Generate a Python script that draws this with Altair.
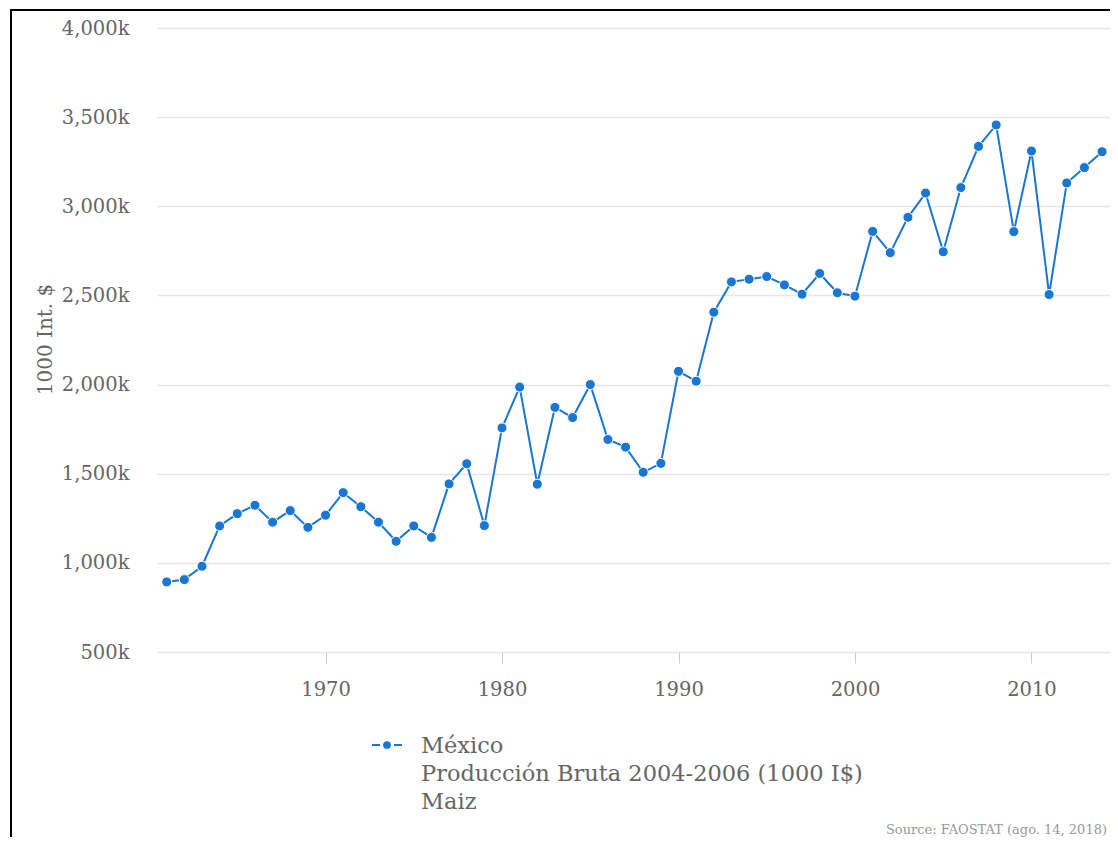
import altair as alt
import pandas as pd

years = list(range(1961, 2015))
values_k = [893, 906, 981, 1207, 1276, 1323, 1228, 1293, 1199, 1267,
            1394, 1315, 1228, 1121, 1207, 1143, 1443, 1556, 1209, 1757,
            1986, 1441, 1872, 1815, 2000, 1692, 1649, 1508, 1558, 2074,
            2019, 2406, 2576, 2591, 2606, 2559, 2507, 2623, 2515, 2496,
            2859, 2740, 2938, 3074, 2745, 3105, 3336, 3456, 2858, 3310,
            2505, 3131, 3217, 3306]
x_ticks = [1970, 1980, 1990, 2000, 2010]
y_ticks = [500000, 1000000, 1500000, 2000000, 2500000, 3000000, 3500000, 4000000]
legend_lines = ["México", "Producción Bruta 2004-2006 (1000 I$)", "Maiz"]
source_text = "Source: FAOSTAT (ago. 14, 2018)"
y_title = "1000 Int. $"

BLUE = "#1976d2"
GRAY = "#666666"

df = pd.DataFrame({"year": years, "value": [v * 1000 for v in values_k]})
one = pd.DataFrame({"a": [0]})

x_enc = alt.X("year:Q",
              scale=alt.Scale(domain=[1960.45, 2014.45], nice=False, zero=False),
              axis=alt.Axis(values=x_ticks, format="d", grid=False, domain=False,
                            tickSize=11, tickColor="#cccccc", tickWidth=1,
                            labelFontSize=19.5, labelColor=GRAY, labelPadding=17,
                            title=None))
y_enc = alt.Y("value:Q",
              scale=alt.Scale(domain=[500000, 4000000], nice=False, zero=False),
              axis=alt.Axis(values=y_ticks,
                            labelExpr="format(datum.value/1000, ',') + 'k'",
                            domain=False, ticks=False, labelPadding=28,
                            labelFontSize=19.5, labelColor=GRAY,
                            gridColor="#e6e6e6", gridWidth=1.5,
                            title=y_title, titleFontSize=20, titleFontWeight="normal",
                            titleColor=GRAY, titleX=-112, titleY=311,
                            titleAlign="center", titleBaseline="middle"))

base = alt.Chart(df).encode(x=x_enc, y=y_enc)
line = base.mark_line(color=BLUE, strokeWidth=2)
points = base.mark_circle(size=100, color=BLUE, opacity=1, stroke="white", strokeWidth=1)

leg_l = alt.Chart(one).mark_rule(color=BLUE, strokeWidth=2).encode(
    x=alt.value(215), x2=alt.value(223), y=alt.value(717))
leg_r = alt.Chart(one).mark_rule(color=BLUE, strokeWidth=2).encode(
    x=alt.value(237), x2=alt.value(245), y=alt.value(717))
leg_p = alt.Chart(one).mark_circle(size=60, color=BLUE, opacity=1).encode(
    x=alt.value(230), y=alt.value(717))
leg_t = alt.Chart(one).mark_text(align="left", baseline="alphabetic", fontSize=22.5,
                                 lineHeight=28, color=GRAY).encode(
    x=alt.value(264), y=alt.value(725), text=alt.value(legend_lines))
src = alt.Chart(one).mark_text(align="right", baseline="alphabetic", fontSize=13,
                               color="#999999").encode(
    x=alt.value(950), y=alt.value(806), text=alt.value(source_text))
frame = alt.Chart(one).mark_rect(fillOpacity=0, stroke="black", strokeWidth=2).encode(
    x=alt.value(-146), x2=alt.value(1300), y=alt.value(-18), y2=alt.value(1100))

chart = alt.layer(frame, line, points, leg_l, leg_r, leg_p, leg_t, src).properties(
    width=953, height=624,
    autosize=alt.AutoSizeParams(type="none"),
    padding={"left": 149, "top": 20, "right": 0, "bottom": 185},
).configure(font="DejaVu Serif").configure_view(stroke="transparent")

chart.save("out.html", embed_options={"renderer": "svg", "actions": False})
